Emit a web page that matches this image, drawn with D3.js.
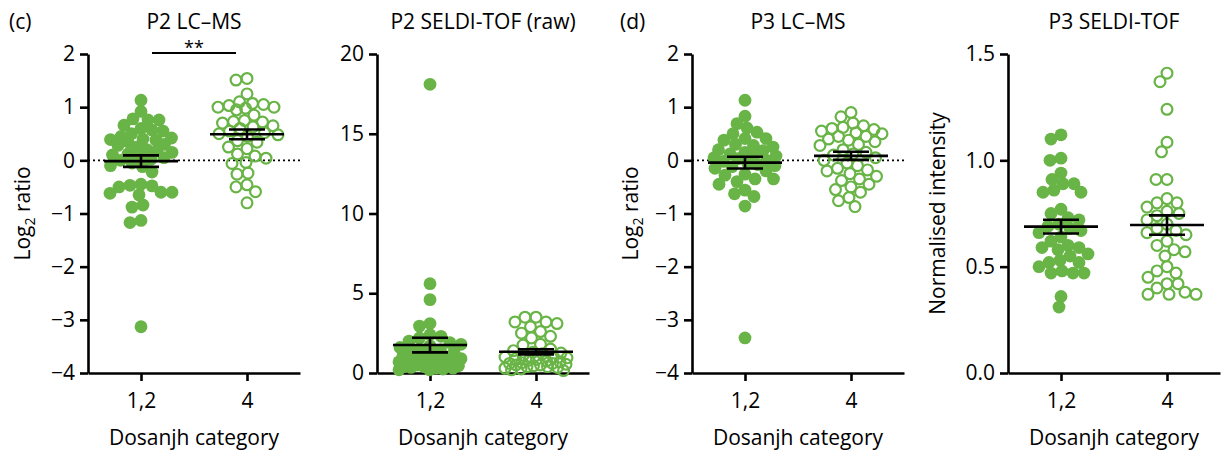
<!DOCTYPE html>
<html>
<head>
<meta charset="utf-8">
<script src="https://cdn.jsdelivr.net/npm/d3@7"></script>
<style>
  html, body { margin: 0; padding: 0; background: #fff; }
  svg { display: block; font-family: "Open Sans", "Noto Sans", sans-serif; }
</style>
</head>
<body>
<svg id="chart" width="1224" height="454"></svg>
<script>
// Categories on every x axis
const categories = ["1,2", "4"];

// P2 LC–MS, log2 ratio
const p2lcmsCat12 = [1.13, 0.92, 0.78, 0.76, 0.76, 0.66, 0.6, 0.57, 0.55, 0.5, 0.45, 0.42, 0.4, 0.39, 0.38, 0.35, 0.3, 0.28, 0.25, 0.2, 0.18, 0.15, 0.12, 0.1, 0.08, 0.05, 0.02, 0.0, -0.05, -0.1, -0.12, -0.22, -0.45, -0.47, -0.48, -0.5, -0.6, -0.62, -0.65, -0.6, -0.84, -0.88, -1.13, -1.17, -3.13];
const p2lcmsCat4 = [1.54, 1.51, 1.25, 1.1, 1.07, 1.05, 1.03, 1.0, 1.0, 0.98, 0.95, 0.85, 0.75, 0.73, 0.72, 0.7, 0.65, 0.63, 0.6, 0.55, 0.52, 0.5, 0.48, 0.45, 0.37, 0.34, 0.25, 0.22, 0.12, 0.08, 0.04, -0.04, -0.06, -0.24, -0.26, -0.46, -0.5, -0.59, -0.8];

// P2 SELDI-TOF, raw intensity
const p2seldiCat12 = [18.1, 5.6, 4.6, 3.1, 2.94, 2.4, 2.3, 2.2, 2.0, 1.9, 1.8, 1.7, 1.6, 1.5, 1.45, 1.4, 1.3, 1.2, 1.1, 1.0, 1.0, 0.95, 0.9, 0.8, 0.8, 0.75, 0.7, 0.6, 0.6, 0.5, 0.5, 0.45, 0.4, 0.4, 0.35, 0.3, 0.3, 0.25, 0.2, 0.2];
const p2seldiCat4 = [3.5, 3.5, 3.2, 3.2, 3.1, 2.9, 2.6, 2.5, 2.3, 2.2, 1.8, 1.75, 1.5, 1.4, 1.3, 1.25, 1.2, 1.1, 1.0, 1.0, 0.95, 0.9, 0.85, 0.8, 0.75, 0.7, 0.65, 0.6, 0.6, 0.55, 0.5, 0.5, 0.45, 0.4, 0.4, 0.35, 0.3, 0.25, 0.2, 0.15];

// P3 LC–MS, log2 ratio
const p3lcmsCat12 = [1.13, 0.83, 0.69, 0.61, 0.53, 0.5, 0.41, 0.41, 0.38, 0.3, 0.28, 0.25, 0.2, 0.18, 0.15, 0.12, 0.1, 0.08, 0.05, 0.03, 0.0, -0.02, -0.05, -0.08, -0.1, -0.12, -0.15, -0.2, -0.26, -0.28, -0.35, -0.35, -0.4, -0.45, -0.56, -0.63, -0.68, -0.86, -3.34];
const p3lcmsCat4 = [0.9, 0.82, 0.7, 0.65, 0.62, 0.6, 0.58, 0.55, 0.52, 0.5, 0.45, 0.45, 0.4, 0.38, 0.35, 0.3, 0.28, 0.2, 0.15, 0.12, 0.1, 0.05, 0.0, -0.05, -0.1, -0.15, -0.18, -0.2, -0.25, -0.3, -0.35, -0.38, -0.45, -0.5, -0.55, -0.6, -0.7, -0.76, -0.87];

// P3 SELDI-TOF, normalised intensity
const p3seldiCat12 = [1.12, 1.10, 1.0, 1.01, 0.94, 0.91, 0.89, 0.89, 0.86, 0.85, 0.85, 0.77, 0.75, 0.73, 0.72, 0.7, 0.69, 0.68, 0.67, 0.66, 0.64, 0.62, 0.6, 0.59, 0.59, 0.58, 0.56, 0.55, 0.53, 0.52, 0.52, 0.5, 0.48, 0.47, 0.47, 0.47, 0.36, 0.31];
const p3seldiCat4 = [1.41, 1.37, 1.24, 1.085, 1.04, 0.91, 0.91, 0.82, 0.8, 0.8, 0.78, 0.76, 0.75, 0.74, 0.72, 0.7, 0.68, 0.67, 0.66, 0.65, 0.62, 0.6, 0.58, 0.57, 0.55, 0.5, 0.48, 0.47, 0.45, 0.42, 0.42, 0.4, 0.38, 0.37, 0.37, 0.37];

// Tick values per axis
const lcmsTicks = [-4, -3, -2, -1, 0, 1, 2];
const seldiRawTicks = [0, 5, 10, 15, 20];
const seldiNormTicks = [0.0, 0.5, 1.0, 1.5];

const GREEN = "#69b446";
const svg = d3.select("#chart");
const FS = 21;

const signed = d => d < 0 ? "\u2212" + Math.abs(d) : String(d);

const panels = [
  { title: "P2 LC–MS", left: 88, domain: [-4, 2], ticks: lcmsTicks, fmt: signed,
    groups: [p2lcmsCat12, p2lcmsCat4], zeroLine: true, ylabel: "log2", ylabelX: 30, letter: "(c)", letterX: 9, sig: true },
  { title: "P2 SELDI-TOF (raw)", left: 377, domain: [0, 20], ticks: seldiRawTicks, fmt: d => String(d),
    groups: [p2seldiCat12, p2seldiCat4] },
  { title: "P3 LC–MS", left: 692, domain: [-4, 2], ticks: lcmsTicks, fmt: signed,
    groups: [p3lcmsCat12, p3lcmsCat4], zeroLine: true, ylabel: "log2", ylabelX: 638, letter: "(d)", letterX: 620 },
  { title: "P3 SELDI-TOF", left: 1008, domain: [0, 1.5], ticks: seldiNormTicks, fmt: d3.format(".1f"),
    groups: [p3seldiCat12, p3seldiCat4], ylabel: "Normalised intensity", ylabelX: 945 }
];

const TOP = 54, BOTTOM = 373, WIDTH = 212;
const R = 6.4;
const MAX_SPREAD = 31;

// Deterministic beeswarm: each point takes the offset nearest to the category
// centre that keeps a minimum gap; inside the allowed spread, when no slot is
// free, it takes the offset that is least crowded.
function swarm(values, y, minDist) {
  const order = values.map((v, i) => ({ v, i, py: y(v) })).sort((a, b) => a.py - b.py);
  const placed = [];
  for (const p of order) {
    let best = 0, bestScore = -Infinity, found = false;
    for (let k = 0; k <= MAX_SPREAD * 4; k++) {
      const off = (k % 2 === 0 ? 1 : -1) * Math.ceil(k / 2) * 0.5;
      if (Math.abs(off) > MAX_SPREAD) break;
      let dmin = Infinity;
      for (const q of placed) dmin = Math.min(dmin, Math.hypot(q.dx - off, q.py - p.py));
      if (dmin >= minDist) { best = off; found = true; break; }
      if (dmin > bestScore) { bestScore = dmin; best = off; }
    }
    p.dx = best;
    placed.push(p);
  }
  return order;
}

panels.forEach(pn => {
  const g = svg.append("g");
  const y = d3.scaleLinear().domain(pn.domain).range([BOTTOM, TOP]);
  const x = d3.scalePoint().domain(categories).range([pn.left, pn.left + WIDTH]).padding(0.5);

  // y axis
  const yAxis = d3.axisLeft(y).tickValues(pn.ticks).tickFormat(pn.fmt).tickSize(8).tickSizeOuter(0);
  const ya = g.append("g").attr("transform", `translate(${pn.left},0)`).call(yAxis);
  ya.select(".domain").attr("stroke", "#000").attr("stroke-width", 2.6);
  ya.selectAll(".tick line").attr("stroke", "#000").attr("stroke-width", 2.6);
  ya.selectAll(".tick text").attr("font-size", FS).attr("fill", "#000").attr("x", -13)
    .attr("font-family", "'Open Sans', sans-serif");

  // x axis
  const xAxis = d3.axisBottom(x).tickSize(8).tickSizeOuter(0);
  const xa = g.append("g").attr("transform", `translate(0,${BOTTOM})`).call(xAxis);
  xa.select(".domain").attr("stroke", "#000").attr("stroke-width", 2.6);
  xa.selectAll(".tick line").attr("stroke", "#000").attr("stroke-width", 2.6);
  xa.selectAll(".tick text").attr("font-size", FS).attr("fill", "#000").attr("y", 20)
    .attr("font-family", "'Open Sans', sans-serif");

  // x axis title
  g.append("text").attr("x", pn.left + WIDTH / 2).attr("y", 445).attr("text-anchor", "middle")
    .attr("font-size", FS).text("Dosanjh category");

  // panel title
  g.append("text").attr("x", pn.left + WIDTH / 2).attr("y", 29).attr("text-anchor", "middle")
    .attr("font-size", FS).text(pn.title);

  if (pn.letter) {
    g.append("text").attr("x", pn.letterX).attr("y", 29).attr("font-size", FS).text(pn.letter);
  }

  // y axis title
  if (pn.ylabel) {
    const t = g.append("text").attr("transform", `translate(${pn.ylabelX},${(TOP + BOTTOM) / 2}) rotate(-90)`)
      .attr("text-anchor", "middle").attr("font-size", FS);
    if (pn.ylabel === "log2") {
      t.append("tspan").text("Log");
      t.append("tspan").attr("font-size", 14).attr("dy", 5).text("2");
      t.append("tspan").attr("dy", -5).text(" ratio");
    } else {
      t.text(pn.ylabel);
    }
  }

  // dotted reference line at zero
  if (pn.zeroLine) {
    g.append("line").attr("x1", pn.left).attr("x2", pn.left + WIDTH)
      .attr("y1", y(0)).attr("y2", y(0))
      .attr("stroke", "#000").attr("stroke-width", 1.8).attr("stroke-dasharray", "2,3");
  }

  // points
  pn.groups.forEach((vals, gi) => {
    const cx = x(categories[gi]);
    const pts = swarm(vals, y, 2 * R - 2);
    g.append("g").selectAll("circle").data(pts).join("circle")
      .attr("cx", d => cx + d.dx).attr("cy", d => d.py)
      .attr("r", gi === 0 ? R : R - 1)
      .attr("fill", gi === 0 ? GREEN : "none")
      .attr("stroke", GREEN).attr("stroke-width", gi === 0 ? 0 : 2.2);
  });

  // mean and SEM
  pn.groups.forEach((vals, gi) => {
    const cx = x(categories[gi]);
    const m = d3.mean(vals);
    const sem = d3.deviation(vals) / Math.sqrt(vals.length);
    const eg = g.append("g").attr("stroke", "#000").attr("stroke-width", 2.6);
    eg.append("line").attr("x1", cx - 37).attr("x2", cx + 37).attr("y1", y(m)).attr("y2", y(m));
    eg.append("line").attr("x1", cx).attr("x2", cx).attr("y1", y(m - sem)).attr("y2", y(m + sem));
    [m - sem, m + sem].forEach(v => {
      eg.append("line").attr("x1", cx - 18).attr("x2", cx + 18).attr("y1", y(v)).attr("y2", y(v));
    });
  });

  // significance bracket
  if (pn.sig) {
    const y0 = TOP - 1;
    g.append("line").attr("x1", x(categories[0]) + 11).attr("x2", x(categories[1]) - 11)
      .attr("y1", y0).attr("y2", y0).attr("stroke", "#000").attr("stroke-width", 2);
    g.append("text").attr("x", (x(categories[0]) + x(categories[1])) / 2).attr("y", y0 + 1)
      .attr("text-anchor", "middle").attr("font-size", 18).text("**");
  }
});
</script>
</body>
</html>
